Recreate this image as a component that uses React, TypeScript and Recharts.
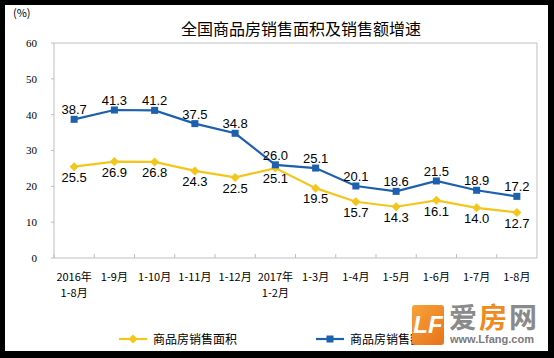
import React from 'react';
import { LineChart, Line, XAxis, YAxis, LabelList, CartesianGrid } from 'recharts';

const categories = [
  '2016年\n1-8月',
  '1-9月',
  '1-10月',
  '1-11月',
  '1-12月',
  '2017年\n1-2月',
  '1-3月',
  '1-4月',
  '1-5月',
  '1-6月',
  '1-7月',
  '1-8月',
];
const areaGrowth = [25.5, 26.9, 26.8, 24.3, 22.5, 25.1, 19.5, 15.7, 14.3, 16.1, 14.0, 12.7];
const salesGrowth = [38.7, 41.3, 41.2, 37.5, 34.8, 26.0, 25.1, 20.1, 18.6, 21.5, 18.9, 17.2];
const yTicks = [0, 10, 20, 30, 40, 50, 60];

const data = categories.map((cat, i) => ({
  cat,
  area: areaGrowth[i],
  sales: salesGrowth[i],
}));

const BLUE = '#1d60ad';
const YELLOW = '#f3c61c';
const AXIS = '#bfbfbf';
const CJK = '"Noto Sans CJK SC", "Noto Sans", sans-serif';

const W = 554;
const H = 358;
const MARGIN = { top: 43, right: 17, bottom: 55, left: 0 };
const Y_AXIS_W = 54;
const PLOT_W = W - MARGIN.left - MARGIN.right - Y_AXIS_W;
const HALF_BAND = PLOT_W / categories.length / 2;

const fmt = (v: any) => Number(v).toFixed(1);

const SquareDot = ({ cx, cy }: any) => {
  if (cx == null || cy == null) return null;
  return <rect x={cx - 3.5} y={cy - 3.5} width={7} height={7} fill={BLUE} />;
};

const DiamondDot = ({ cx, cy }: any) => {
  if (cx == null || cy == null) return null;
  const r = 4.5;
  return (
    <polygon
      points={`${cx},${cy - r} ${cx + r},${cy} ${cx},${cy + r} ${cx - r},${cy}`}
      fill={YELLOW}
    />
  );
};

const CategoryTick = ({ x, y, payload }: any) => {
  const lines = String(payload.value).split('\n');
  return (
    <g>
      <line x1={x - HALF_BAND} y1={y - 4} x2={x - HALF_BAND} y2={y} stroke={AXIS} />
      {lines.map((t, i) => (
        <text
          key={i}
          x={x}
          y={y + 23 + i * 16}
          textAnchor="middle"
          fontSize={11}
          fontFamily={CJK}
          fill="#000"
        >
          {t}
        </text>
      ))}
    </g>
  );
};

const LegendItem = ({ color, label, square }: any) => (
  <div style={{ display: 'flex', alignItems: 'center' }}>
    <svg width={30} height={10}>
      <line x1={0} y1={5} x2={28} y2={5} stroke={color} strokeWidth={2.2} />
      {square ? (
        <rect x={10.5} y={1.5} width={7} height={7} fill={color} />
      ) : (
        <polygon points="14,0.5 18.5,5 14,9.5 9.5,5" fill={color} />
      )}
    </svg>
    <span style={{ fontFamily: CJK, fontSize: 12, color: '#000', marginLeft: 4 }}>{label}</span>
  </div>
);

export default function App() {
  return (
    <div
      style={{
        position: 'absolute',
        left: 0,
        top: 0,
        width: W,
        height: H,
        background: '#000',
        overflow: 'hidden',
      }}
    >
      <div
        style={{ position: 'absolute', left: 5, top: 5, width: 543, height: 346, background: '#fff' }}
      />
      <div
        style={{
          position: 'absolute',
          left: 0,
          top: 18,
          width: 602,
          textAlign: 'center',
          fontFamily: CJK,
          fontSize: 16,
          lineHeight: '20px',
          color: '#000',
        }}
      >
        全国商品房销售面积及销售额增速
      </div>
      <div
        style={{
          position: 'absolute',
          left: 13,
          top: 4,
          fontFamily: CJK,
          fontSize: 11,
          lineHeight: '16px',
          color: '#000',
        }}
      >
        (%)
      </div>
      <div style={{ position: 'absolute', left: 0, top: 0 }}>
        <LineChart width={W} height={H} data={data} margin={MARGIN}>
          <CartesianGrid
            stroke={AXIS}
            strokeDasharray=""
            horizontalCoordinatesGenerator={({ offset }: any) => [offset.top]}
            verticalCoordinatesGenerator={({ offset }: any) => [offset.left + offset.width]}
          />
          <XAxis
            dataKey="cat"
            interval={0}
            height={45}
            padding={{ left: HALF_BAND, right: HALF_BAND }}
            tickLine={false}
            tickSize={0}
            tickMargin={0}
            axisLine={{ stroke: AXIS }}
            tick={<CategoryTick />}
          />
          <YAxis
            domain={[0, 60]}
            ticks={yTicks}
            interval={0}
            width={Y_AXIS_W}
            tickSize={3}
            tickMargin={14}
            axisLine={{ stroke: AXIS }}
            tickLine={{ stroke: AXIS }}
            tick={{ fontSize: 11, fill: '#000', fontFamily: '"Liberation Serif", serif' }}
          />
          <Line
            dataKey="area"
            stroke={YELLOW}
            strokeWidth={2.2}
            dot={<DiamondDot />}
            activeDot={false}
            isAnimationActive={false}
          >
            <LabelList
              dataKey="area"
              position="bottom"
              offset={6}
              formatter={fmt}
              fontSize={13}
              fill="#000"
              fontFamily='"Liberation Sans", Arial, sans-serif'
            />
          </Line>
          <Line
            dataKey="sales"
            stroke={BLUE}
            strokeWidth={2.2}
            dot={<SquareDot />}
            activeDot={false}
            isAnimationActive={false}
          >
            <LabelList
              dataKey="sales"
              position="top"
              offset={5}
              formatter={fmt}
              fontSize={13}
              fill="#000"
              fontFamily='"Liberation Sans", Arial, sans-serif'
            />
          </Line>
        </LineChart>
      </div>
      <div style={{ position: 'absolute', left: 119, top: 330 }}>
        <LegendItem color={YELLOW} label="商品房销售面积" />
      </div>
      <div style={{ position: 'absolute', left: 316, top: 330 }}>
        <LegendItem color={BLUE} label="商品房销售额" square />
      </div>
      {/* watermark */}
      <div
        style={{
          position: 'absolute',
          left: 412,
          top: 305,
          width: 32,
          height: 40,
          background: 'linear-gradient(135deg, #f7a23a, #e8731a)',
          borderRadius: 3,
          color: '#fff',
          fontFamily: '"Liberation Sans", Arial, sans-serif',
          fontWeight: 'bold',
          fontSize: 24,
          lineHeight: '40px',
          textAlign: 'center',
          fontStyle: 'italic',
        }}
      >
        LF
      </div>
      <div
        style={{
          position: 'absolute',
          left: 449,
          top: 302,
          width: 96,
          height: 28,
          fontFamily: CJK,
          fontWeight: 'bold',
          fontSize: 28,
          lineHeight: '28px',
          color: '#8a8a8a',
          letterSpacing: 2,
          whiteSpace: 'nowrap',
        }}
      >
        爱<span style={{ color: '#f0891e' }}>房</span>网
      </div>
      <div
        style={{
          position: 'absolute',
          left: 450,
          top: 333,
          width: 95,
          fontFamily: '"Liberation Sans", Arial, sans-serif',
          fontWeight: 'bold',
          fontSize: 11,
          lineHeight: '12px',
          color: '#7a7a7a',
          whiteSpace: 'nowrap',
        }}
      >
        www.Lfang.com
      </div>
    </div>
  );
}
